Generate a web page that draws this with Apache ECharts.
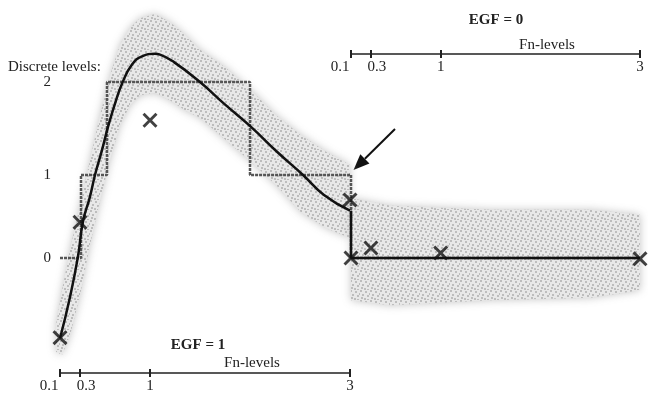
<!DOCTYPE html>
<html>
<head>
<meta charset="utf-8">
<script src="https://cdn.jsdelivr.net/npm/echarts@6/dist/echarts.min.js"></script>
<style>
  html, body {margin: 0; padding: 0; background: #fff;}
  #chart {width: 648px; height: 393px;}
</style>
</head>
<body>
<div id="chart"></div>
<script>
const fnTicks = [0.1, 0.3, 1, 3]
const levelNames = ['0', '1', '2']
const levelValues = [0, 1, 2.12]

// EGF = 1 (left panel)
const curveEgf1 = [[0.1, -0.97], [0.2, -0.47], [0.28, 0.02], [0.33, 0.44], [0.4, 0.74], [0.45, 1.0], [0.52, 1.3],
  [0.58, 1.58], [0.65, 1.86], [0.72, 2.1], [0.82, 2.33], [0.92, 2.43], [1.05, 2.46], [1.1, 2.45], [1.24, 2.36],
  [1.5, 2.12], [1.74, 1.86], [2.01, 1.58], [2.27, 1.28], [2.53, 1.0], [2.74, 0.76], [3.0, 0.57]]
const crossEgf1 = [[0.1, -0.96], [0.3, 0.43], [1, 1.66], [3, 0.7]]
const stepEdgesEgf1 = [0.1, 0.31, 0.57, 2.0, 3.0]
const stepLevelsEgf1 = [0, 1, 2, 1]
// cloud envelope: [Fn, low, high]
const cloudEgf1 = [[0.06, -1.13, -0.81], [0.12, -1.17, -0.39], [0.2, -0.93, 0.1], [0.3, -0.45, 0.64], [0.4, 0.16, 1.18],
  [0.5, 0.69, 1.72], [0.6, 1.18, 2.2], [0.7, 1.6, 2.57], [0.8, 1.84, 2.77], [0.9, 1.96, 2.89], [1.05, 1.99, 2.94],
  [1.2, 1.9, 2.84], [1.35, 1.78, 2.69], [1.5, 1.69, 2.51], [1.76, 1.42, 2.29], [2.01, 1.16, 2.02], [2.26, 0.88, 1.72],
  [2.51, 0.55, 1.48], [2.76, 0.36, 1.28], [3.0, 0.24, 1.12]]

// EGF = 0 (right panel)
const curveEgf0 = [[0.1, 0.57], [0.1, 0], [3, 0]]
const crossEgf0 = [[0.1, 0], [0.3, 0.12], [1, 0.06], [3, -0.01]]
const stepEdgesEgf0 = [0.1, 3.0]
const stepLevelsEgf0 = [0]
const cloudEgf0 = [[0.1, -0.51, 0.72], [0.5, -0.57, 0.63], [1.5, -0.51, 0.58], [2.5, -0.48, 0.58], [3.0, -0.39, 0.52]]

const serif = '"Liberation Serif", "DejaVu Serif", serif'

const stepPoints = (edges, levels, startLevel) => {
  const pts = startLevel == null ? [] : [[edges[0], levelValues[startLevel]]]
  levels.forEach((l, i) => {
    pts.push([edges[i], levelValues[l]], [edges[i + 1], levelValues[l]])
  })
  return pts
}

// dotted texture for the point cloud
const tile = document.createElement('canvas')
tile.width = tile.height = 10
const tctx = tile.getContext('2d')
tctx.fillStyle = '#e8e8e8'
tctx.fillRect(0, 0, 10, 10)
tctx.fillStyle = '#bdbdbd'
;[[0, 0], [5, 1], [2, 4], [7, 5], [4, 8], [9, 3], [1, 7], [7, 9]].forEach(([x, y]) => tctx.fillRect(x, y, 2, 2))
const cloudFill = {image: tile, repeat: 'repeat'}

const cloudSeries = (band, gi) => ({
  type: 'custom',
  xAxisIndex: gi,
  yAxisIndex: gi,
  silent: true,
  z: 1,
  encode: {x: 0, y: 1},
  data: band,
  renderItem(params, api) {
    if (params.dataIndex !== 0) return null
    const top = band.map(d => api.coord([d[0], d[2]]))
    const bottom = band.map(d => api.coord([d[0], d[1]])).reverse()
    return {
      type: 'polygon',
      shape: {points: top.concat(bottom)},
      style: {fill: cloudFill, shadowBlur: 8, shadowColor: 'rgba(190,190,190,0.9)'},
    }
  },
})

const crossSymbol = 'path://M0,2.2L2.2,0L8,5.8L13.8,0L16,2.2L10.2,8L16,13.8L13.8,16L8,10.2L2.2,16L0,13.8L5.8,8Z'

const stepStyle = {color: '#555', width: 2.5, type: [3, 1]}

const tickLabel = v => {
  if (v === 0.1) return '{l|0.1}'
  if (v === 0.3) return '{r|0.3}'
  return String(v)
}

const xBase = (gi, position, offset, showLine) => ({
  type: 'value',
  gridIndex: gi,
  min: 0.1,
  max: 3,
  position,
  offset,
  splitLine: {show: false},
  axisLine: {show: showLine, onZero: false, lineStyle: {color: '#222', width: 1.5}},
  axisTick: {show: true, customValues: fnTicks, length: 4, inside: false, lineStyle: {color: '#222', width: 2}},
  axisLabel: {
    show: showLine,
    customValues: fnTicks,
    margin: 6,
    fontFamily: serif,
    fontSize: 15,
    color: '#222',
    formatter: tickLabel,
    rich: {
      l: {fontFamily: serif, fontSize: 15, color: '#222', padding: [0, 22, 0, 0]},
      r: {fontFamily: serif, fontSize: 15, color: '#222', padding: [0, 0, 0, 12]},
    },
  },
})

const chart = echarts.init(document.getElementById('chart'), null, {renderer: 'canvas'})

const option = {
  animation: false,
  backgroundColor: '#fff',
  textStyle: {fontFamily: serif},
  grid: [
    {left: 60, width: 290, top: 9, bottom: 52, outerBoundsMode: 'none'},
    {left: 351, width: 289, top: 9, bottom: 52, outerBoundsMode: 'none'},
  ],
  xAxis: [
    xBase(0, 'bottom', 32, true),
    xBase(1, 'bottom', -287, true),
    xBase(0, 'top', -364, false),
    xBase(1, 'top', -45, false),
  ],
  yAxis: [0, 1].map(gi => ({
    type: 'value',
    gridIndex: gi,
    min: -1,
    max: 3,
    splitLine: {show: false},
    axisLine: {show: false},
    axisTick: {show: false},
    axisLabel: {
      show: gi === 0,
      customValues: levelValues,
      margin: 9,
      fontFamily: serif,
      fontSize: 15,
      color: '#222',
      formatter: v => levelNames[levelValues.indexOf(v)],
    },
  })),
  series: [
    cloudSeries(cloudEgf1, 0),
    cloudSeries(cloudEgf0, 1),
    {
      type: 'line', xAxisIndex: 0, yAxisIndex: 0, z: 2, symbol: 'none', silent: true,
      data: stepPoints(stepEdgesEgf1, stepLevelsEgf1), lineStyle: stepStyle,
    },
    {
      type: 'line', xAxisIndex: 1, yAxisIndex: 1, z: 2, symbol: 'none', silent: true,
      data: stepPoints(stepEdgesEgf0, stepLevelsEgf0, 1), lineStyle: stepStyle,
    },
    {
      type: 'line', xAxisIndex: 0, yAxisIndex: 0, z: 3, symbol: 'none', silent: true,
      smooth: 0.5,
      data: curveEgf1, lineStyle: {color: '#111', width: 2.5},
    },
    {
      type: 'line', xAxisIndex: 1, yAxisIndex: 1, z: 3, symbol: 'none', silent: true,
      data: curveEgf0, lineStyle: {color: '#111', width: 2.5},
    },
    {
      type: 'scatter', xAxisIndex: 0, yAxisIndex: 0, z: 4, silent: true,
      symbol: crossSymbol, symbolSize: 15, itemStyle: {color: '#111'}, data: crossEgf1,
    },
    {
      type: 'scatter', xAxisIndex: 1, yAxisIndex: 1, z: 4, silent: true,
      symbol: crossSymbol, symbolSize: 15, itemStyle: {color: '#111'}, data: crossEgf0,
    },
  ],
}
chart.setOption(option)

// annotations: panel titles, axis names and the arrow to the step corner
const txt = (x, y, text, bold, align) => ({
  type: 'text', x, y, silent: true,
  style: {
    text, fill: '#222', align: align || 'center', verticalAlign: 'middle',
    font: (bold ? 'bold ' : '') + '15px ' + serif,
  },
})

const corner = chart.convertToPixel({gridIndex: 0}, [3, levelValues[1]])
const tip = [corner[0] + 3.5, corner[1] - 5]
const tail = [corner[0] + 45, corner[1] - 46]
const dx = tip[0] - tail[0], dy = tip[1] - tail[1]
const len = Math.hypot(dx, dy)
const ux = dx / len, uy = dy / len
const base = [tip[0] - ux * 16, tip[1] - uy * 16]
const nx = -uy * 6.5, ny = ux * 6.5

chart.setOption({
  graphic: [
    txt(8, 67, 'Discrete levels:', false, 'left'),
    txt(496, 20, 'EGF = 0', true),
    txt(547, 45, 'Fn-levels', false),
    txt(198, 345, 'EGF = 1', true),
    txt(252, 363, 'Fn-levels', false),
    {type: 'line', silent: true, shape: {x1: tail[0], y1: tail[1], x2: base[0], y2: base[1]}, style: {stroke: '#111', lineWidth: 2}},
    {type: 'polygon', silent: true, shape: {points: [tip, [base[0] + nx, base[1] + ny], [base[0] - nx, base[1] - ny]]}, style: {fill: '#111'}},
  ],
})
</script>
</body>
</html>
